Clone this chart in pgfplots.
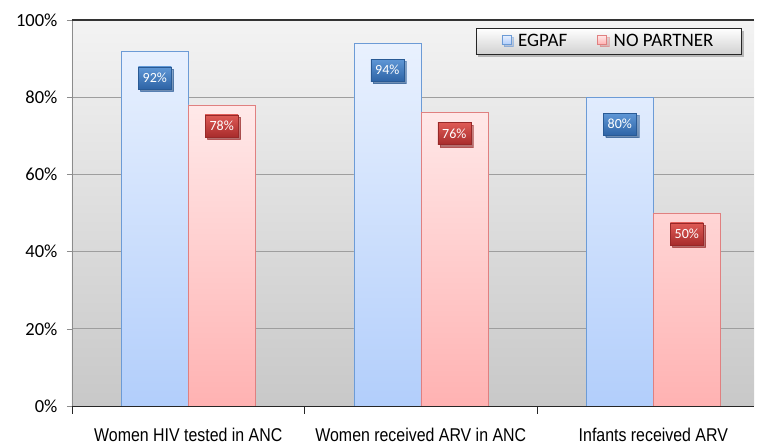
\documentclass[border=0pt]{standalone}
\usepackage{fontspec}
\setmainfont{Carlito}
\newfontfamily\narrowfont[FakeStretch=0.86]{Liberation Sans}
\usepackage{pgfplots}
\pgfplotsset{compat=1.18}
\usetikzlibrary{shadows}

\definecolor{egtop}{HTML}{E9F1FE}
\definecolor{egbot}{HTML}{B2CEFB}
\definecolor{egbd}{HTML}{6C9BD6}
\definecolor{nptop}{HTML}{FFE9E9}
\definecolor{npbot}{HTML}{FFB2B2}
\definecolor{npbd}{HTML}{E08080}
\definecolor{lbtop}{HTML}{5F97D6}
\definecolor{lbbot}{HTML}{2E64A6}
\definecolor{lrtop}{HTML}{DE5A55}
\definecolor{lrbot}{HTML}{A82C2C}
\definecolor{bgtop}{HTML}{F3F3F3}
\definecolor{bgbot}{HTML}{C8C8C8}

\begin{document}
\begin{tikzpicture}
\begin{axis}[
  name=ax,
  scale only axis,
  width=682pt, height=386pt,
  ybar=0pt, bar width=0.288,
  xmin=-0.5, xmax=2.433,
  ymin=0, ymax=100,
  axis background/.style={top color=bgtop, bottom color=bgbot},
  axis x line*=bottom, axis y line*=left,
  x axis line style={black!85, line width=0.8pt},
  y axis line style={black!45},
  ytick={0,20,40,60,80,100},
  yticklabel={\pgfmathprintnumber{\tick}\%},
  /pgf/number format/assume math mode=true,
  yticklabel style={font=\fontsize{18.5}{20}\selectfont, xshift=-6pt},
  ytick style={black!45},
  tick align=outside,
  major tick length=5pt,
  ymajorgrids=true,
  grid style={black!38, line width=0.8pt},
  xtick={0,1,2},
  xticklabels={Women HIV tested in ANC, Women received ARV in ANC, Infants received ARV},
  xticklabel style={font=\narrowfont\fontsize{18.5}{20}\selectfont, yshift=-14pt},
  xtick style={draw=none},
  extra x ticks={-0.5,0.5,1.5},
  extra x tick labels={},
  extra x tick style={xtick style={draw=black!85}, major tick length=8pt},
  legend columns=2,
  legend style={at={(0.982,0.979)}, anchor=north east,
    draw=black!85, top color=white, bottom color=black!18, drop shadow,
    font=\fontsize{19}{21}\selectfont,
    nodes={font=\fontsize{19}{21}\selectfont},
    inner xsep=26pt, inner ysep=4pt},
  /tikz/every even column/.append style={column sep=28pt},
  /tikz/every odd column/.append style={column sep=5pt},
  legend image code/.code={\draw[#1] (0pt,-3pt) rectangle (9pt,6pt);},
  nodes near coords={\pgfmathprintnumber{\pgfplotspointmeta}\%},
]
\addplot[draw=egbd, top color=egtop, bottom color=egbot,
  every node near coord/.append style={anchor=center, yshift=-27pt,
    text=white, font=\fontsize{14}{15}\selectfont,
    minimum width=33pt, minimum height=22pt, inner sep=0pt,
    top color=lbtop, bottom color=lbbot, draw=lbbot!90!black, drop shadow}]
  coordinates {(0,92) (1,94) (2,80)};
\addlegendentry{EGPAF}
\addplot[draw=npbd, top color=nptop, bottom color=npbot,
  every node near coord/.append style={anchor=center, yshift=-21pt,
    text=white, font=\fontsize{14}{15}\selectfont,
    minimum width=33pt, minimum height=22pt, inner sep=0pt,
    top color=lrtop, bottom color=lrbot, draw=lrbot!90!black, drop shadow}]
  coordinates {(0,78) (1,76) (2,50)};
\addlegendentry{NO PARTNER}
\draw[black!80, line width=1.2pt] (rel axis cs:0,1) -- (rel axis cs:1,1);
\end{axis}
\pgfresetboundingbox
\path[use as bounding box] ([shift={(-72pt,-40pt)}]ax.south west) rectangle ([shift={(3pt,20pt)}]ax.north east);
\end{tikzpicture}
\end{document}
